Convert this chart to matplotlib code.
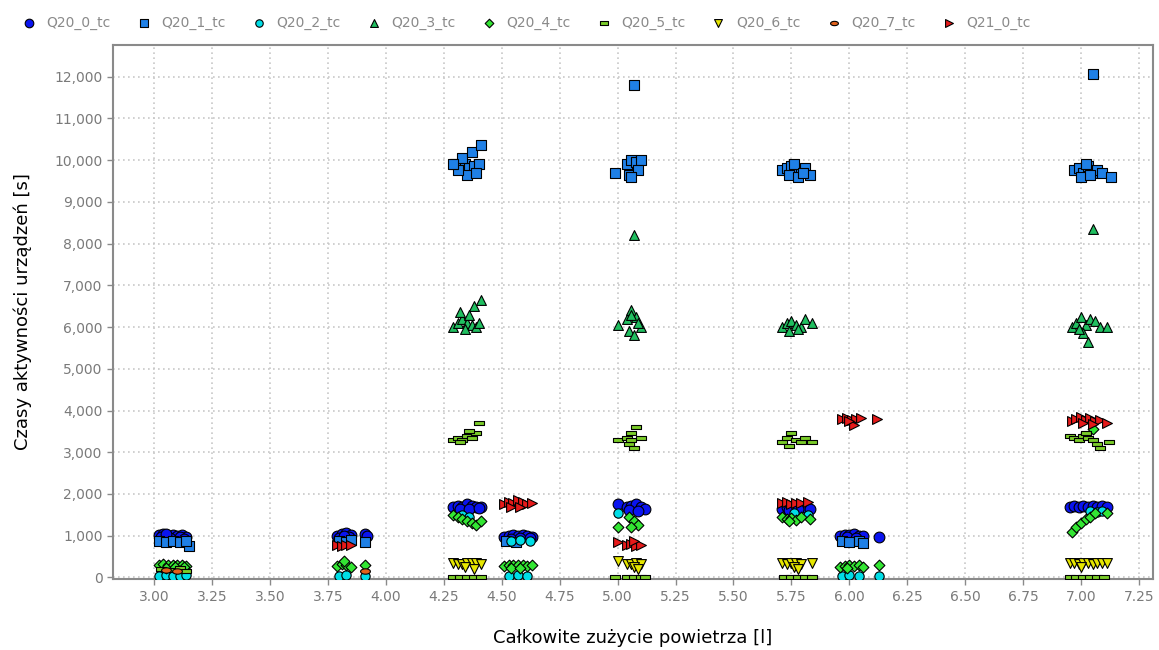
import matplotlib
matplotlib.use("Agg")
import matplotlib.pyplot as plt
import numpy as np
from matplotlib.ticker import FuncFormatter

series_names = ["Q20_0_tc", "Q20_1_tc", "Q20_2_tc", "Q20_3_tc", "Q20_4_tc",
                "Q20_5_tc", "Q20_6_tc", "Q20_7_tc", "Q21_0_tc"]

q20_0_x = [3.02, 3.04, 3.06, 3.08, 3.10, 3.12, 3.14, 3.03, 3.07, 3.11, 3.05, 3.13,
           3.79, 3.81, 3.83, 3.85, 3.80, 3.84, 3.82, 3.91, 3.92,
           4.29, 4.31, 4.33, 4.35, 4.37, 4.39, 4.41, 4.32, 4.36, 4.40,
           4.51, 4.53, 4.55, 4.57, 4.59, 4.61, 4.63, 4.54, 4.58, 4.62,
           5.00, 5.04, 5.06, 5.08, 5.10, 5.12, 5.05, 5.09,
           5.71, 5.73, 5.75, 5.77, 5.79, 5.81, 5.83, 5.74, 5.78,
           5.96, 5.98, 6.00, 6.02, 6.04, 6.06, 5.99, 6.03, 6.13,
           6.95, 6.97, 6.99, 7.01, 7.03, 7.05, 7.07, 7.09, 7.11]
q20_0_y = [1010, 1030, 1000, 1020, 990, 1010, 960, 960, 950, 970, 1050, 930,
           1000, 1030, 1060, 1010, 950, 970, 990, 1050, 1000,
           1680, 1720, 1700, 1750, 1720, 1700, 1680, 1650, 1640, 1660,
           980, 1000, 1020, 1000, 1010, 990, 960, 930, 940, 950,
           1750, 1700, 1720, 1750, 1700, 1650, 1620, 1600,
           1650, 1680, 1700, 1690, 1700, 1680, 1650, 1620, 1630,
           1000, 1020, 1010, 1030, 1000, 990, 960, 950, 960,
           1700, 1710, 1700, 1720, 1700, 1710, 1700, 1720, 1700]

q20_1_x = [3.02, 3.05, 3.08, 3.11, 3.15, 3.14,
           3.80, 3.83, 3.85, 3.91,
           4.30, 4.32, 4.34, 4.36, 4.38, 4.40, 4.33, 4.37, 4.41, 4.35, 4.39, 4.31, 4.29,
           4.52, 4.56,
           4.99, 5.04, 5.06, 5.08, 5.10, 5.05, 5.09, 5.07, 5.06,
           5.71, 5.73, 5.75, 5.77, 5.79, 5.81, 5.83, 5.74, 5.78, 5.76, 5.80,
           5.97, 6.00, 6.04, 6.06,
           6.97, 6.99, 7.01, 7.03, 7.05, 7.07, 7.09, 7.13, 7.00, 7.04, 7.02, 7.05]
q20_1_y = [870, 850, 880, 860, 760, 880,
           880, 850, 900, 850,
           9900, 9850, 9900, 9800, 9850, 9900, 10050, 10200, 10350, 9650, 9700, 9750, 9900,
           880, 860,
           9700, 9900, 10000, 9950, 10000, 9650, 9750, 11800, 9600,
           9750, 9800, 9850, 9700, 9750, 9800, 9650, 9650, 9600, 9900, 9700,
           880, 850, 870, 820,
           9750, 9800, 9700, 9850, 9700, 9750, 9700, 9600, 9600, 9650, 9900, 12050]

q20_2_x = [3.02, 3.05, 3.08, 3.11, 3.14,
           3.80, 3.83, 3.91,
           4.33, 4.36,
           4.54, 4.58, 4.62, 4.53, 4.57, 4.61,
           5.00,
           5.76, 5.82,
           5.97, 6.00, 6.04, 6.13,
           7.04, 7.07, 7.09]
q20_2_y = [40, 50, 30, 40, 50,
           40, 50, 40,
           1500, 1450,
           880, 900, 870, 40, 50, 40,
           1550,
           1550, 1500,
           40, 50, 40, 40,
           1600, 1580, 1600]

q20_3_x = [4.29, 4.31, 4.33, 4.35, 4.37, 4.39, 4.32, 4.36, 4.38, 4.41, 4.34, 4.40,
           5.00, 5.04, 5.06, 5.08, 5.10, 5.05, 5.07, 5.09, 5.06, 5.07,
           5.71, 5.73, 5.75, 5.77, 5.79, 5.81, 5.84, 5.74, 5.78,
           6.96, 6.98, 7.00, 7.02, 7.04, 7.06, 7.08, 7.11, 7.01, 7.03, 6.99, 7.05]
q20_3_y = [6000, 6100, 6200, 6100, 6050, 6000, 6350, 6300, 6500, 6650, 5950, 6100,
           6050, 6200, 6400, 6250, 6000, 5900, 5800, 6100, 6300, 8200,
           6000, 6100, 6150, 6050, 6000, 6200, 6100, 5900, 5950,
           6000, 6100, 6250, 6050, 6200, 6150, 6000, 6000, 5850, 5650, 5950, 8350]

q20_4_x = [3.02, 3.04, 3.06, 3.08, 3.10, 3.12, 3.14, 3.05, 3.09, 3.13,
           3.79, 3.81, 3.83, 3.85, 3.82, 3.91,
           4.29, 4.31, 4.33, 4.35, 4.37, 4.39, 4.41,
           4.51, 4.53, 4.55, 4.57, 4.59, 4.61, 4.63, 4.54, 4.58,
           5.00, 5.05, 5.07, 5.09, 5.06,
           5.71, 5.73, 5.75, 5.77, 5.79, 5.83, 5.74,
           5.96, 5.98, 6.00, 6.02, 6.04, 6.06, 5.99, 6.13,
           6.96, 6.98, 7.00, 7.02, 7.04, 7.06, 7.11, 7.05]
q20_4_y = [300, 320, 310, 290, 310, 300, 280, 230, 250, 240,
           280, 320, 300, 260, 400, 300,
           1500, 1450, 1400, 1350, 1300, 1250, 1350,
           280, 300, 290, 310, 300, 280, 290, 220, 230,
           1200, 1450, 1350, 1250, 1200,
           1450, 1400, 1420, 1380, 1450, 1400, 1350,
           250, 280, 300, 270, 290, 260, 220, 300,
           1100, 1200, 1300, 1400, 1450, 1550, 1550, 3550]

q20_5_x = [3.03, 3.07, 3.11, 3.14,
           4.29, 4.31, 4.33, 4.35, 4.37, 4.39, 4.36, 4.40, 4.32,
           4.29, 4.32, 4.35, 4.38, 4.41,
           5.00, 5.04, 5.06, 5.08, 5.10, 5.05, 5.07, 5.06,
           4.99, 5.04, 5.07, 5.10, 5.12,
           5.71, 5.73, 5.75, 5.77, 5.79, 5.81, 5.84, 5.74,
           5.72, 5.75, 5.78, 5.81, 5.84,
           6.95, 6.97, 6.99, 7.01, 7.03, 7.05, 7.07, 7.12, 7.02, 7.08,
           6.95, 6.98, 7.01, 7.04, 7.07, 7.10]
q20_5_y = [200, 180, 220, 150,
           3300, 3350, 3300, 3400, 3350, 3450, 3500, 3700, 3250,
           10, 10, 10, 10, 10,
           3300, 3350, 3450, 3600, 3350, 3200, 3100, 3300,
           10, 10, 10, 10, 10,
           3250, 3350, 3450, 3300, 3250, 3350, 3250, 3150,
           10, 10, 10, 10, 10,
           3400, 3350, 3300, 3400, 3350, 3300, 3200, 3250, 3450, 3100,
           10, 10, 10, 10, 10, 10]

q20_6_x = [4.29, 4.31, 4.33, 4.35, 4.37, 4.39, 4.41, 4.34, 4.38,
           5.00, 5.04, 5.06, 5.08, 5.10, 5.07, 5.09,
           5.71, 5.73, 5.75, 5.77, 5.79, 5.84, 5.76, 5.78,
           6.95, 6.97, 6.99, 7.01, 7.03, 7.05, 7.07, 7.09, 7.11, 7.00]
q20_6_y = [350, 330, 320, 350, 340, 350, 330, 250, 200,
           400, 320, 330, 340, 330, 250, 200,
           340, 330, 350, 340, 330, 340, 250, 200,
           350, 340, 330, 350, 340, 330, 350, 340, 350, 250]

q20_7_x = [3.05, 3.10, 3.91]
q20_7_y = [170, 150, 160]

q21_0_x = [3.79, 3.81, 3.83, 3.85,
           4.51, 4.53, 4.55, 4.57, 4.59, 4.61, 4.63, 4.54, 4.58,
           5.00, 5.04, 5.06, 5.08, 5.10, 5.07,
           5.71, 5.73, 5.75, 5.77, 5.79, 5.82,
           5.97, 5.99, 6.01, 6.03, 6.05, 6.02, 6.12, 6.00,
           6.96, 6.98, 7.00, 7.02, 7.04, 7.06, 7.08, 7.11, 7.01, 7.05]
q21_0_y = [780, 760, 770, 790,
           1750, 1800, 1780, 1850, 1800, 1750, 1780, 1700, 1680,
           850, 780, 800, 750, 780, 880,
           1780, 1800, 1770, 1790, 1780, 1800,
           3800, 3820, 3780, 3800, 3820, 3650, 3800, 3750,
           3750, 3800, 3850, 3780, 3820, 3750, 3780, 3700, 3700, 3680]

x_ticks = [3.00, 3.25, 3.50, 3.75, 4.00, 4.25, 4.50, 4.75, 5.00, 5.25,
           5.50, 5.75, 6.00, 6.25, 6.50, 6.75, 7.00, 7.25]
y_ticks = [0, 1000, 2000, 3000, 4000, 5000, 6000, 7000, 8000, 9000,
           10000, 11000, 12000]

# custom markers
rect_marker = [(-1, -0.42), (1, -0.42), (1, 0.42), (-1, 0.42), (-1, -0.42)]
t = np.linspace(0, 2 * np.pi, 40)
ellipse_marker = list(zip(np.cos(t), 0.55 * np.sin(t)))

data = [(q20_0_x, q20_0_y), (q20_1_x, q20_1_y), (q20_2_x, q20_2_y),
        (q20_3_x, q20_3_y), (q20_4_x, q20_4_y), (q20_5_x, q20_5_y),
        (q20_6_x, q20_6_y), (q20_7_x, q20_7_y), (q21_0_x, q21_0_y)]
colors = ["#0a14f0", "#1f80e6", "#00dde6", "#20bf60", "#33e633",
          "#7acc29", "#e6e600", "#e0601a", "#e61a1a"]
markers = ["o", "s", "o", "^", "D", rect_marker, "v", ellipse_marker, ">"]
sizes = [60, 50, 45, 50, 30, 60, 50, 50, 50]

fig = plt.figure(figsize=(11.59, 6.5), dpi=100)
ax = fig.add_axes([0.0975, 0.109, 0.8973, 0.822])

handles = []
for (xs, ys), c, m, s, name in zip(data, colors, markers, sizes, series_names):
    h = ax.scatter(xs, ys, s=s, c=c, marker=m, edgecolors="black",
                   linewidths=0.8, label=name, zorder=3)
    handles.append(h)

ax.set_xlim(2.823, 7.31)
ax.set_ylim(-40, 12760)
ax.set_xticks(x_ticks)
ax.set_yticks(y_ticks)
ax.xaxis.set_major_formatter(FuncFormatter(lambda v, p: f"{v:.2f}"))
ax.yaxis.set_major_formatter(FuncFormatter(lambda v, p: f"{int(round(v)):,}"))
ax.grid(True, color="#c8c8c8", linestyle=(0, (1, 2)), linewidth=1.2, zorder=0)
for sp in ax.spines.values():
    sp.set_color("#8a8a8a")
    sp.set_linewidth(1.5)
ax.tick_params(axis="both", colors="#8a8a8a", labelcolor="#7a7a7a",
               labelsize=10, length=4, width=1)

ax.set_xlabel("Całkowite zużycie powietrza [l]", fontsize=13, color="black",
              labelpad=18)
ax.set_ylabel("Czasy aktywności urządzeń [s]", fontsize=13, color="black",
              labelpad=16)

leg = fig.legend(handles=handles, labels=series_names, loc="upper left",
                 bbox_to_anchor=(0.002, 0.995), ncol=9, frameon=False,
                 fontsize=10, handletextpad=0.25, columnspacing=1.4,
                 markerscale=0.8)
for txt in leg.get_texts():
    txt.set_color("#8a8a8a")

fig.savefig("out.png", dpi=100)
